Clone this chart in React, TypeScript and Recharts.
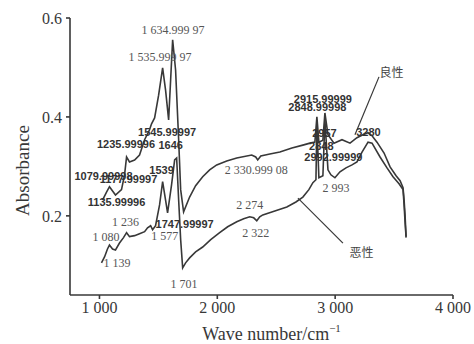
import React from "react";
import { LineChart, Line, XAxis, YAxis, ReferenceDot, ReferenceLine } from "recharts";

// 良性 (benign) spectrum
const benignWave = [1026, 1060, 1085, 1136, 1187, 1213, 1230, 1255, 1298, 1340, 1383, 1425, 1442, 1468, 1502, 1536, 1561, 1587, 1604, 1621, 1646, 1672, 1689, 1714, 1765, 1816, 1876, 1935, 1995, 2080, 2165, 2292, 2326, 2343, 2369, 2446, 2531, 2633, 2726, 2786, 2828, 2845, 2862, 2896, 2913, 2939, 2990, 3058, 3126, 3185, 3236, 3279, 3313, 3355, 3415, 3466, 3517, 3551, 3576, 3585, 3593, 3602];
const benignAbs = [0.232, 0.248, 0.259, 0.242, 0.253, 0.283, 0.319, 0.309, 0.313, 0.323, 0.354, 0.374, 0.386, 0.398, 0.444, 0.499, 0.454, 0.394, 0.475, 0.556, 0.495, 0.354, 0.253, 0.208, 0.238, 0.261, 0.279, 0.293, 0.303, 0.311, 0.317, 0.323, 0.319, 0.313, 0.321, 0.325, 0.329, 0.337, 0.343, 0.347, 0.349, 0.4, 0.349, 0.353, 0.408, 0.364, 0.347, 0.354, 0.347, 0.358, 0.364, 0.368, 0.362, 0.349, 0.327, 0.299, 0.281, 0.271, 0.257, 0.232, 0.202, 0.158];

// 恶性 (malignant) spectrum
const malignantWave = [1017, 1043, 1068, 1085, 1111, 1136, 1170, 1204, 1230, 1255, 1298, 1340, 1383, 1408, 1434, 1451, 1476, 1510, 1536, 1561, 1578, 1612, 1638, 1655, 1672, 1689, 1706, 1731, 1765, 1816, 1876, 1944, 2020, 2088, 2165, 2224, 2275, 2309, 2335, 2360, 2386, 2488, 2590, 2667, 2726, 2777, 2811, 2837, 2845, 2862, 2896, 2913, 2939, 2964, 2998, 3041, 3092, 3143, 3185, 3228, 3279, 3313, 3381, 3440, 3491, 3542, 3576, 3585, 3593, 3602];
const malignantAbs = [0.105, 0.117, 0.133, 0.141, 0.133, 0.131, 0.145, 0.156, 0.166, 0.158, 0.16, 0.164, 0.168, 0.176, 0.18, 0.172, 0.18, 0.222, 0.269, 0.232, 0.206, 0.263, 0.313, 0.317, 0.232, 0.152, 0.095, 0.105, 0.115, 0.127, 0.137, 0.152, 0.166, 0.178, 0.188, 0.194, 0.198, 0.196, 0.19, 0.198, 0.202, 0.21, 0.218, 0.228, 0.238, 0.253, 0.267, 0.273, 0.384, 0.277, 0.281, 0.394, 0.293, 0.283, 0.277, 0.289, 0.297, 0.303, 0.309, 0.329, 0.349, 0.347, 0.319, 0.297, 0.279, 0.265, 0.253, 0.222, 0.188, 0.156];

const xTicks = [1000, 2000, 3000, 4000];
const yTicks = [0.2, 0.4, 0.6];

// peak annotations (bold sans)
const boldText = ["1235.99996", "1545.99997", "1646", "1079.99998", "1177.99997", "1539", "1135.99996", "1747.99997", "2915.99999", "2848.99998", "2957", "2848", "2992.99999", "3280"];
const boldWave = [1225, 1574, 1604, 1034, 1247, 1527, 1145, 1723, 2896, 2849, 2909, 2883, 2985, 3283];
const boldAbs = [0.345, 0.37, 0.343, 0.281, 0.275, 0.293, 0.228, 0.184, 0.436, 0.42, 0.368, 0.341, 0.319, 0.37];

// peak annotations (serif)
const serifText = ["1 634.999 97", "1 535.999 97", "1 236", "1 080", "1 139", "1 577", "1 701", "2 330.999 08", "2 274", "2 322", "2 993"];
const serifWave = [1625, 1514, 1221, 1055, 1149, 1553, 1718, 2331, 2275, 2327, 3007];
const serifAbs = [0.576, 0.521, 0.188, 0.158, 0.105, 0.16, 0.063, 0.293, 0.222, 0.166, 0.257];

// series names with leader lines
const seriesNames = ["良性", "恶性"];
const nameWave = [3479, 3224];
const nameAbs = [0.491, 0.127];
const leaderFrom = [[3372, 0.481], [2684, 0.236]];
const leaderTo = [[3168, 0.364], [3066, 0.145]];

const benignData = benignWave.map((x, i) => ({ x, y: benignAbs[i] }));
const malignantData = malignantWave.map((x, i) => ({ x, y: malignantAbs[i] }));

const SERIF = "'Liberation Serif', 'DejaVu Serif', serif";
const SANS = "'Liberation Sans', Arial, sans-serif";
const CJK = "'Noto Sans CJK SC', sans-serif";
const INK = "#383838";

const fmtX = (v: number) => {
  const s = String(v);
  return s.length > 3 ? s.slice(0, s.length - 3) + " " + s.slice(-3) : s;
};

const XLabel = (props: any) => {
  const vb = props.viewBox || {};
  const cx = vb.x + vb.width / 2 + 10;
  const y = vb.y + 45;
  return (
    <text x={cx} y={y} textAnchor="middle" fontFamily={SERIF} fontSize={18} fill={INK}>
      Wave number/cm
      <tspan fontSize={11} dy={-8}>−1</tspan>
    </text>
  );
};

const YLabel = (props: any) => {
  const vb = props.viewBox || {};
  const x = 22;
  const y = vb.y + vb.height / 2 + 14;
  return (
    <text x={x} y={y} textAnchor="middle" fontFamily={SERIF} fontSize={19} fill={INK} transform={`rotate(-90 ${x} ${y})`} dominantBaseline="central">
      Absorbance
    </text>
  );
};

const makeText = (t: string, family: string, size: number, weight: string, fill: string) => (p: any) => (
  <text x={p.cx} y={p.cy} textAnchor="middle" dominantBaseline="central" fontFamily={family} fontSize={size} fontWeight={weight} fill={fill}>
    {t}
  </text>
);

export default function App() {
  return (
    <div style={{ position: "absolute", left: 0, top: 0, background: "#fff" }}>
      <LineChart width={474} height={344} margin={{ top: 18, right: 21, left: 0, bottom: 0 }}>
        <XAxis
          dataKey="x"
          type="number"
          domain={[750, 4000]}
          ticks={xTicks}
          tickFormatter={fmtX}
          height={49}
          tickSize={4}
          tickMargin={3}
          stroke={INK}
          strokeWidth={1.6}
          tick={{ fontFamily: SERIF, fontSize: 16, fill: INK }}
          allowDataOverflow
          label={<XLabel />}
        />
        <YAxis
          dataKey="y"
          type="number"
          domain={[0.04, 0.6]}
          ticks={yTicks}
          tickFormatter={(v: number) => v.toFixed(1)}
          width={70}
          tickSize={4}
          tickMargin={4}
          stroke={INK}
          strokeWidth={1.6}
          tick={{ fontFamily: SERIF, fontSize: 16, fill: INK }}
          allowDataOverflow
          label={<YLabel />}
        />
        <Line data={benignData} dataKey="y" type="linear" stroke={INK} strokeWidth={1.6} dot={false} isAnimationActive={false} />
        <Line data={malignantData} dataKey="y" type="linear" stroke={INK} strokeWidth={1.6} dot={false} isAnimationActive={false} />
        {leaderFrom.map((f, i) => (
          <ReferenceLine
            key={"ld" + i}
            segment={[{ x: f[0], y: f[1] }, { x: leaderTo[i][0], y: leaderTo[i][1] }]}
            stroke={INK}
            strokeWidth={1.2}
            ifOverflow="visible"
          />
        ))}
        {boldText.map((t, i) => (
          <ReferenceDot key={"b" + i} x={boldWave[i]} y={boldAbs[i]} r={0} ifOverflow="visible" shape={makeText(t, SANS, 11, "bold", "#333")} />
        ))}
        {serifText.map((t, i) => (
          <ReferenceDot key={"s" + i} x={serifWave[i]} y={serifAbs[i]} r={0} ifOverflow="visible" shape={makeText(t, SERIF, 12, "normal", "#555")} />
        ))}
        {seriesNames.map((t, i) => (
          <ReferenceDot key={"n" + i} x={nameWave[i]} y={nameAbs[i]} r={0} ifOverflow="visible" shape={makeText(t, CJK, 12, "normal", "#444")} />
        ))}
      </LineChart>
    </div>
  );
}
